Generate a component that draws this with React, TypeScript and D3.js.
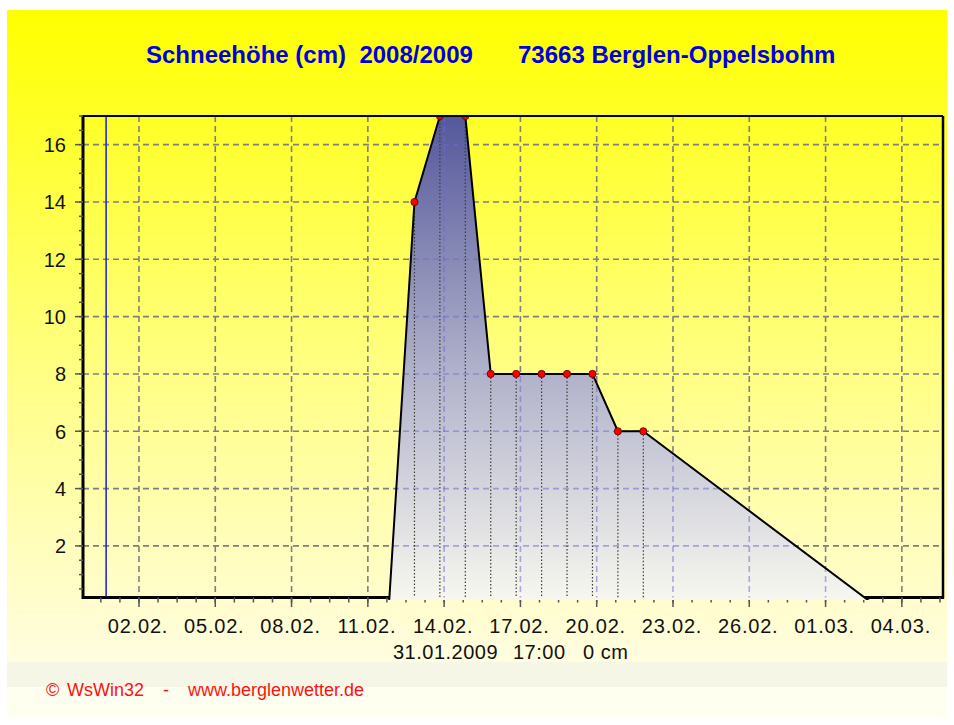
import React from "react";
import * as d3 from "d3";

const parse = d3.timeParse("%d.%m.%Y %H:%M");

// ---- data ----
const measureTimes = [
  "11.02.2009 20:00",
  "12.02.2009 20:00",
  "13.02.2009 20:00",
  "14.02.2009 20:00",
  "15.02.2009 20:00",
  "16.02.2009 20:00",
  "17.02.2009 20:00",
  "18.02.2009 20:00",
  "19.02.2009 20:00",
  "20.02.2009 20:00",
  "21.02.2009 20:00",
  "02.03.2009 20:00",
];
const snowDepth = [0, 14, 17, 17, 8, 8, 8, 8, 8, 6, 6, 0];
const yTickValues = [2, 4, 6, 8, 10, 12, 14, 16];
const xDomainStr = ["30.01.2009 19:10", "05.03.2009 14:50"];
const yDomain = [0.2, 17];
const firstTickDay = "02.02.2009 00:00";
const currentTime = "31.01.2009 17:00";
const currentLabel = ["31.01.2009", "17:00", "0 cm"];
const titleParts = ["Schneehöhe (cm)  2008/2009", "73663 Berglen-Oppelsbohm"];
const footerParts = ["©", "WsWin32", "-", "www.berglenwetter.de"];

export default function App() {
  const W = 954, H = 725;
  const L = 83, R = 943, T = 116, B = 597.5;

  const x = d3.scaleTime().domain(xDomainStr.map((s) => parse(s) as Date)).range([L, R]);
  const y = d3.scaleLinear().domain(yDomain).range([B, T]);

  const pts = measureTimes.map((t, i) => ({ t: parse(t) as Date, v: snowDepth[i] }));

  const [d0, d1] = x.domain();
  const first = parse(firstTickDay) as Date;
  const majorX = d3.timeDay.range(first, d1, 3);
  const minorX = d3
    .range(-4, 50)
    .map((k) => d3.timeHour.offset(first, 18 * k))
    .filter((d) => d >= d0 && d <= d1);
  const minorY = d3.range(0.5, 17.01, 0.5);
  const fmt = d3.timeFormat("%d.%m.");

  const area = d3
    .area<{ t: Date; v: number }>()
    .x((d) => x(d.t))
    .y0(y(0))
    .y1((d) => y(d.v))(pts) as string;
  const line = d3
    .line<{ t: Date; v: number }>()
    .x((d) => x(d.t))
    .y((d) => y(d.v))(pts) as string;

  const cur = parse(currentTime) as Date;
  const font = "'Liberation Sans', Arial, sans-serif";

  const gridH = yTickValues.map((v) => (
    <line key={"h" + v} x1={L} x2={R} y1={y(v)} y2={y(v)} />
  ));
  const gridV = majorX.map((d) => (
    <line key={"v" + d.getTime()} x1={x(d)} x2={x(d)} y1={T} y2={B} />
  ));

  return (
    <svg
      width={W}
      height={H}
      style={{ position: "absolute", left: 0, top: 0, background: "#fff" }}
      fontFamily={font}
    >
      <defs>
        <linearGradient id="bg" x1="0" y1="10" x2="0" y2="662" gradientUnits="userSpaceOnUse">
          <stop offset="0" stopColor="#ffff00" />
          <stop offset="0.5" stopColor="#ffff78" />
          <stop offset="1" stopColor="#fffde0" />
        </linearGradient>
        <linearGradient id="fillg" x1="0" y1={T} x2="0" y2={600} gradientUnits="userSpaceOnUse">
          <stop offset="0" stopColor="#54579b" />
          <stop offset="0.5" stopColor="#acadc8" />
          <stop offset="1" stopColor="#f7f7ef" />
        </linearGradient>
        <clipPath id="plotClip">
          <rect x={L} y={T} width={R - L} height={600 - T} />
        </clipPath>
        <clipPath id="areaClip">
          <path d={area} />
        </clipPath>
      </defs>

      {/* background */}
      <rect x={7} y={10} width={940} height={652} fill="url(#bg)" />
      <rect x={7} y={662} width={940} height={25} fill="#f6f6e6" />
      <rect x={7} y={687} width={940} height={31} fill="#fffff0" />

      {/* title */}
      <text x={146} y={62.5} fontSize={24} fontWeight="bold" fill="#0000dd" style={{ whiteSpace: "pre" }}>
        {titleParts[0]}
      </text>
      <text x={518} y={62.5} fontSize={24} fontWeight="bold" fill="#0000dd">
        {titleParts[1]}
      </text>

      {/* grid below fill */}
      <g stroke="#7f7f7f" strokeWidth={1.6} strokeDasharray="6,4">
        {gridH}
        {gridV}
      </g>

      {/* axes frame */}
      <line x1={L} x2={R} y1={T} y2={T} stroke="#000" strokeWidth={2} />
      <line x1={R} x2={R} y1={T} y2={B + 1} stroke="#000" strokeWidth={2.5} />
      <line x1={L - 1} x2={R + 1} y1={B} y2={B} stroke="#000" strokeWidth={3} />
      <line x1={L} x2={L} y1={T - 1} y2={B + 1.5} stroke="#000" strokeWidth={3} />

      {/* y ticks */}
      <g stroke="#555" strokeWidth={1.5}>
        {minorY.map((v) => (
          <line key={"my" + v} x1={L - 4} x2={L} y1={y(v)} y2={y(v)} />
        ))}
        {yTickValues.map((v) => (
          <line key={"My" + v} x1={L - 8} x2={L} y1={y(v)} y2={y(v)} />
        ))}
      </g>
      <g fontSize={20} fill="#111" textAnchor="end">
        {yTickValues.map((v) => (
          <text key={"yl" + v} x={66} y={y(v) + 7.3}>
            {v}
          </text>
        ))}
      </g>

      {/* x ticks */}
      <g stroke="#555" strokeWidth={1.5}>
        {minorX.map((d) => (
          <line key={"mx" + d.getTime()} x1={x(d)} x2={x(d)} y1={B} y2={B + 5} />
        ))}
        {majorX.map((d) => (
          <line key={"Mx" + d.getTime()} x1={x(d)} x2={x(d)} y1={B} y2={B + 9.5} />
        ))}
      </g>
      <g fontSize={20} fill="#111" textAnchor="middle" letterSpacing={0.8}>
        {majorX.map((d) => (
          <text key={"xl" + d.getTime()} x={x(d) - 1} y={633}>
            {fmt(d)}
          </text>
        ))}
      </g>
      <g fontSize={20} fill="#111" letterSpacing={0.5}>
        <text x={393} y={659}>{currentLabel[0]}</text>
        <text x={513} y={659}>{currentLabel[1]}</text>
        <text x={583} y={659}>{currentLabel[2]}</text>
      </g>

      {/* current marker */}
      <line x1={x(cur)} x2={x(cur)} y1={T + 1} y2={B - 1} stroke="#2a2ad0" strokeWidth={1.6} />

      {/* snow area */}
      <g clipPath="url(#plotClip)">
        <path d={area} fill="url(#fillg)" />
        <g clipPath="url(#areaClip)" stroke="#6b6bd0" strokeOpacity={0.55} strokeWidth={1.6} strokeDasharray="6,4">
          {gridH}
          {gridV}
        </g>
        <g stroke="#3d3d30" strokeWidth={1.2} strokeDasharray="1.5,2">
          {pts
            .filter((p) => p.v > 0)
            .map((p) => (
              <line key={"dl" + p.t.getTime()} x1={x(p.t)} x2={x(p.t)} y1={y(p.v)} y2={B} />
            ))}
        </g>
        <path d={line} fill="none" stroke="#000" strokeWidth={2} strokeLinejoin="round" />
        {pts
          .filter((p) => p.v > 0)
          .map((p) => (
            <circle
              key={"c" + p.t.getTime()}
              cx={x(p.t)}
              cy={y(p.v)}
              r={3.6}
              fill="#ff0000"
              stroke="#500000"
              strokeWidth={0.8}
            />
          ))}
      </g>
      <line x1={L} x2={R} y1={T} y2={T} stroke="#000" strokeWidth={2} />

      {/* footer */}
      <g fontSize={18} fill="#ff1010">
        <text x={46} y={696}>{footerParts[0]}</text>
        <text x={67} y={696}>{footerParts[1]}</text>
        <text x={163} y={696}>{footerParts[2]}</text>
        <text x={188} y={696}>{footerParts[3]}</text>
      </g>
    </svg>
  );
}
